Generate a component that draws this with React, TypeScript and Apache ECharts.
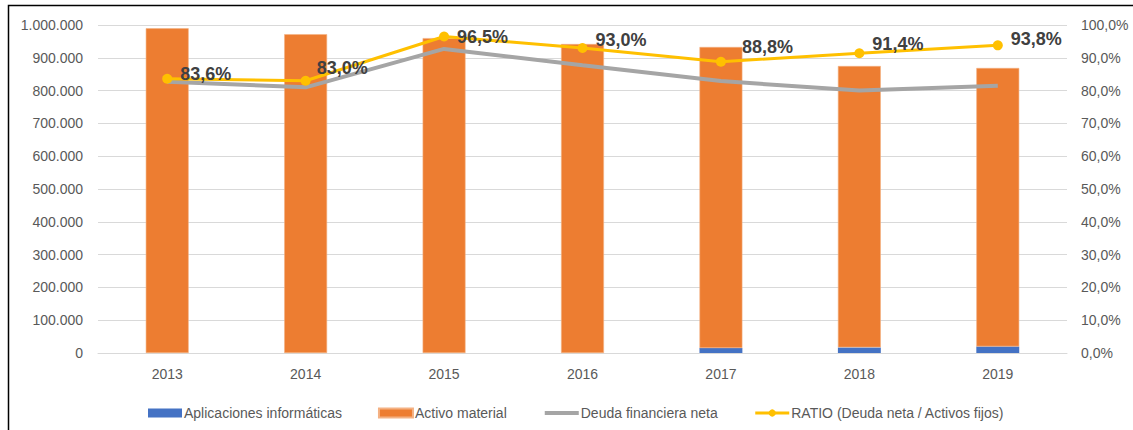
import React, { useEffect, useRef } from "react";
import * as echarts from "echarts";

const years = ["2013", "2014", "2015", "2016", "2017", "2018", "2019"];
const aplicaciones = [0, 0, 0, 0, 15000, 17000, 20000];
const activoMaterial = [990000, 972000, 960000, 942000, 918000, 858000, 849000];
const deudaNeta = [827000, 810000, 927000, 877000, 829000, 800000, 815000];
const ratio = [0.836, 0.83, 0.965, 0.93, 0.888, 0.914, 0.938];
const ratioLabelOffsets: [number, number][] = [
  [0, -5],
  [-2, -13],
  [0, 1],
  [0, -8],
  [8, -15],
  [0, -9],
  [0, -6],
];

const fmtThousands = (v: number) =>
  String(Math.round(v)).replace(/\B(?=(\d{3})+(?!\d))/g, ".");
const fmtPct = (v: number) => (v * 100).toFixed(1).replace(".", ",") + "%";

const FONT = "'Liberation Sans Narrow', 'Liberation Sans', sans-serif";
const AXIS_TEXT = "#595959";

export default function App() {
  const ref = useRef<HTMLDivElement>(null);

  useEffect(() => {
    if (!ref.current) return;
    const chart = echarts.init(ref.current, undefined, { renderer: "svg" });
    chart.setOption({
      animation: false,
      backgroundColor: "#ffffff",
      textStyle: { fontFamily: FONT },
      graphic: [
        {
          type: "rect",
          shape: { x: 8.5, y: 5.5, width: 1140, height: 440 },
          style: { fill: "none", stroke: "#000000", lineWidth: 1.5 },
          silent: true,
          z: 100,
        },
      ],
      grid: { left: 98, right: 66, top: 25, bottom: 77 },
      legend: {
        left: 143,
        top: 401,
        itemGap: 36,
        itemWidth: 34,
        itemHeight: 9,
        textStyle: { fontFamily: FONT, fontSize: 14, color: AXIS_TEXT, padding: [0, 0, 0, -3] },
        data: [
          { name: "Aplicaciones informáticas", icon: "rect" },
          { name: "Activo material", icon: "rect" },
          {
            name: "Deuda financiera neta",
            itemStyle: { opacity: 0 },
            lineStyle: { width: 4 },
          },
          { name: "RATIO (Deuda neta / Activos fijos)", lineStyle: { width: 3 } },
        ],
      },
      xAxis: {
        type: "category",
        data: years,
        axisLine: { lineStyle: { color: "#D9D9D9", width: 1 } },
        axisTick: { show: false },
        axisLabel: { color: AXIS_TEXT, fontSize: 14, fontFamily: FONT, margin: 14 },
      },
      yAxis: [
        {
          type: "value",
          min: 0,
          max: 1000000,
          interval: 100000,
          axisLine: { show: false },
          axisTick: { show: false },
          splitLine: { lineStyle: { color: "#D9D9D9", width: 1 } },
          axisLabel: {
            color: AXIS_TEXT,
            fontSize: 14,
            fontFamily: FONT,
            margin: 15,
            formatter: (v: number) => fmtThousands(v),
          },
        },
        {
          type: "value",
          min: 0,
          max: 1,
          interval: 0.1,
          axisLine: { show: false },
          axisTick: { show: false },
          splitLine: { show: false },
          axisLabel: {
            color: AXIS_TEXT,
            fontSize: 14,
            fontFamily: FONT,
            margin: 14,
            formatter: (v: number) => fmtPct(v),
          },
        },
      ],
      series: [
        {
          name: "Aplicaciones informáticas",
          type: "bar",
          stack: "activos",
          barWidth: "31%",
          data: aplicaciones,
          itemStyle: { color: "#4472C4" },
        },
        {
          name: "Activo material",
          type: "bar",
          stack: "activos",
          barWidth: "31%",
          data: activoMaterial,
          itemStyle: { color: "#ED7D31", borderColor: "#F4B183", borderWidth: 0.6 },
        },
        {
          name: "Deuda financiera neta",
          type: "line",
          data: deudaNeta,
          symbol: "none",
          lineStyle: { color: "#A5A5A5", width: 4 },
          itemStyle: { color: "#A5A5A5" },
          z: 3,
        },
        {
          name: "RATIO (Deuda neta / Activos fijos)",
          type: "line",
          yAxisIndex: 1,
          data: ratio.map((v, i) => ({
            value: v,
            label: { offset: ratioLabelOffsets[i] },
          })),
          symbol: "circle",
          symbolSize: 10,
          lineStyle: { color: "#FFC000", width: 3 },
          itemStyle: { color: "#FFC000" },
          label: {
            show: true,
            position: "right",
            distance: 8,
            fontFamily: FONT,
            fontSize: 18,
            fontWeight: "bold",
            color: "#404040",
            formatter: (p: any) => fmtPct(p.value),
          },
          z: 4,
        },
      ],
    });
    return () => chart.dispose();
  }, []);

  return (
    <div
      ref={ref}
      style={{ position: "fixed", left: 0, top: 0, width: 1133, height: 430 }}
    />
  );
}
